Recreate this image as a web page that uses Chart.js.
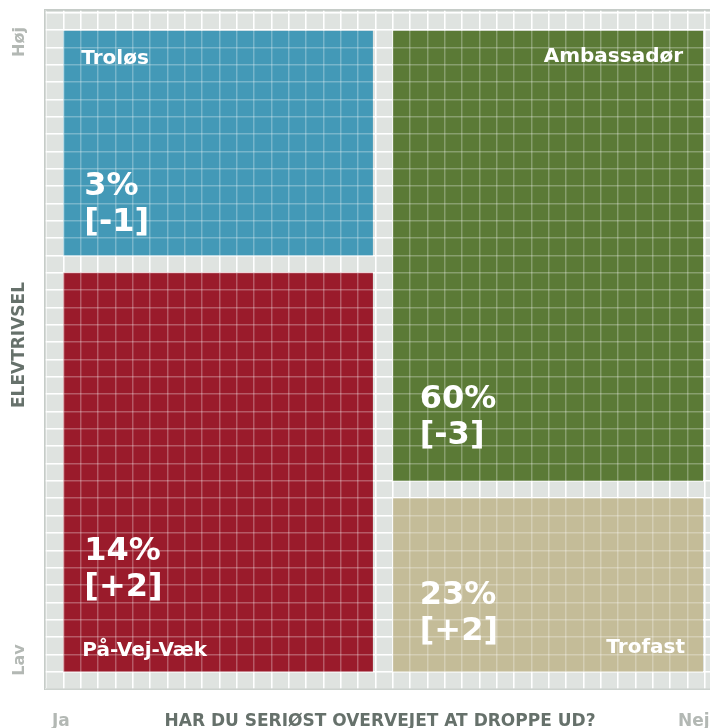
<!DOCTYPE html>
<html>
<head>
<meta charset="utf-8">
<script src="https://cdn.jsdelivr.net/npm/chart.js@4/dist/chart.umd.min.js"></script>
<style>
  html, body { margin: 0; padding: 0; background: #fff; overflow: hidden; }
  #wrap { width: 710px; height: 728px; }
</style>
</head>
<body>
<div id="wrap"><canvas id="mosaic"></canvas></div>
<script>
const segments = ["Troløs", "Ambassadør", "På-Vej-Væk", "Trofast"];
const shares = [3, 60, 14, 23];
const changes = [-1, -3, 2, 2];
const colors = ["#4399b7", "#5b7a36", "#9a1b2b", "#c4bc98"];

// extent of each box, in grid cells
const xFrom = [1, 20, 1, 20];
const xTo = [18.86, 37.9, 18.86, 37.9];
const yFrom = [25, 12, 1, 1];
const yTo = [37.95, 37.95, 24, 11];

const xEnds = ["Ja", "Nej"];
const yEnds = ["Lav", "Høj"];
const xTitle = "HAR DU SERIØST OVERVEJET AT DROPPE UD?";
const yTitle = "ELEVTRIVSEL";

const FONT = "'DejaVu Sans', Verdana, sans-serif";

const frame = {
  id: "frame",
  beforeDraw(chart) {
    const { ctx, chartArea: a } = chart;
    ctx.save();
    ctx.fillStyle = "#dfe3e0";
    ctx.fillRect(a.left, a.top, a.right - a.left, a.bottom - a.top);
    ctx.restore();
  },
  beforeDatasetsDraw(chart) {
    const { ctx, chartArea: a } = chart;
    ctx.save();
    ctx.strokeStyle = "#c6ccc8";
    ctx.lineWidth = 2;
    ctx.beginPath();
    ctx.moveTo(a.right + 5, a.top);
    ctx.lineTo(a.left, a.top);
    ctx.lineTo(a.left, a.bottom);
    ctx.lineTo(a.right + 5, a.bottom);
    ctx.stroke();
    ctx.restore();
  }
};

// where the texts sit inside each box (px from its edges)
const nameSpot = [["left", 18, "top", 33], ["right", 20, "top", 31], ["left", 19, "bottom", 16], ["right", 18, "bottom", 19]];
const valueSpot = [[21, 60], [27, 73], [21, 112], [27, 68]];

const texts = {
  id: "texts",
  afterDraw(chart) {
    const { ctx, chartArea: a, scales: { x, y } } = chart;
    ctx.save();
    ctx.fillStyle = "#fff";
    ctx.textBaseline = "alphabetic";
    segments.forEach((name, i) => {
      const l = x.getPixelForValue(xFrom[i]), r = x.getPixelForValue(xTo[i]);
      const t = y.getPixelForValue(yTo[i]), b = y.getPixelForValue(yFrom[i]);
      const s = nameSpot[i];
      ctx.font = "bold 20px " + FONT;
      ctx.textAlign = s[0];
      ctx.fillText(name, s[0] === "left" ? l + s[1] : r - s[1], s[2] === "top" ? t + s[3] : b - s[3]);
      const v = valueSpot[i];
      ctx.font = "bold 32px " + FONT;
      ctx.textAlign = "left";
      ctx.fillText(shares[i] + "%", l + v[0], b - v[1]);
      ctx.fillText("[" + (changes[i] > 0 ? "+" : "") + changes[i] + "]", l + v[0], b - v[1] + 36);
    });

    // axis texts
    ctx.font = "bold 17px " + FONT;
    ctx.fillStyle = "#b3b8b4";
    ctx.textAlign = "left";
    ctx.fillText(xEnds[0], a.left + 7, 726);
    ctx.fillText(xEnds[1], 678, 726);
    ctx.fillStyle = "#66716b";
    ctx.textAlign = "center";
    ctx.fillText(xTitle, 380, 726);

    ctx.translate(24, 0);
    ctx.rotate(-Math.PI / 2);
    ctx.fillText(yTitle, -345, 0);
    ctx.fillStyle = "#b3b8b4";
    ctx.font = "bold 16px " + FONT;
    ctx.fillText(yEnds[0], -660, 0);
    ctx.fillText(yEnds[1], -42, 0);
    ctx.restore();
  }
};

function gridAxis(color, z) {
  return {
    type: "linear",
    display: true,
    ticks: { display: false, stepSize: 1, includeBounds: false },
    grid: { color: color, lineWidth: 1.5, drawTicks: false, z: z },
    border: { display: false }
  };
}

// white grid under the boxes, faint grid over them
const xa = gridAxis("#ffffff", -1), xb = gridAxis("rgba(255,255,255,0.28)", 1);
const ya = gridAxis("#ffffff", -1), yb = gridAxis("rgba(255,255,255,0.28)", 1);
[xa, xb].forEach(s => { s.min = -0.055; s.max = 38.3; s.position = "bottom"; s.axis = "x"; });
[ya, yb].forEach(s => { s.min = 0; s.max = 39.15; s.position = "left"; s.axis = "y"; });

new Chart(document.getElementById("mosaic"), {
  type: "line",
  data: {
    datasets: segments.map((name, i) => ({
      label: name,
      data: [{ x: xFrom[i], y: yTo[i] }, { x: xTo[i], y: yTo[i] }],
      fill: { value: yFrom[i] },
      backgroundColor: colors[i],
      borderColor: "transparent",
      borderWidth: 0,
      pointRadius: 0,
      tension: 0
    }))
  },
  options: {
    responsive: true,
    maintainAspectRatio: false,
    animation: false,
    layout: { padding: { left: 45, top: 10, right: 0, bottom: 39 } },
    scales: { x: xa, x2: xb, y: ya, y2: yb },
    plugins: { legend: { display: false }, tooltip: { enabled: false } }
  },
  plugins: [frame, texts]
});
</script>
</body>
</html>
